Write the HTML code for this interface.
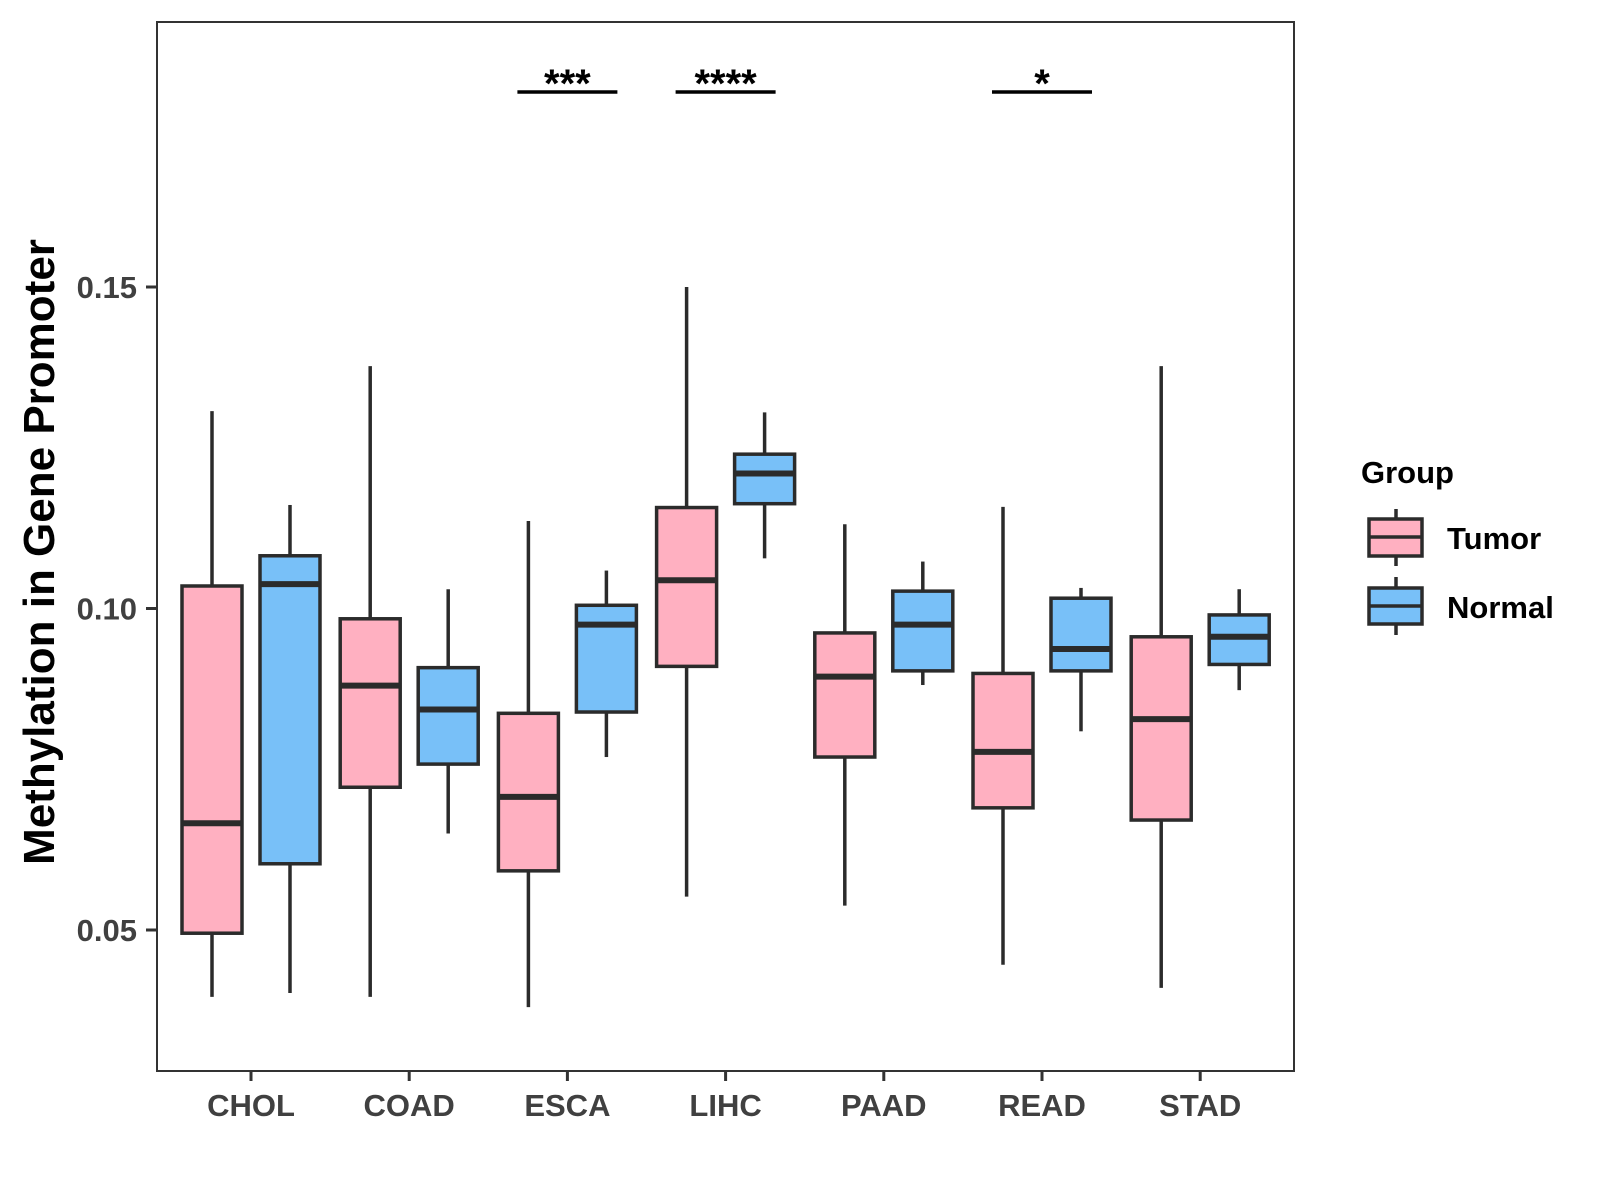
<!DOCTYPE html>
<html><head><meta charset="utf-8"><style>
html,body{margin:0;padding:0;background:#fff}
svg{display:block;font-family:"Liberation Sans",Arial,sans-serif}
</style></head><body>
<svg id="chart" width="1600" height="1200" viewBox="0 0 1600 1200">
<rect x="157" y="22" width="1137" height="1049" fill="#fff" stroke="#333" stroke-width="2"/>
<g id="marks"></g>
<g id="axes"></g>
<text transform="translate(54,552) rotate(-90)" text-anchor="middle" font-size="44" font-weight="bold" fill="#000">Methylation in Gene Promoter</text>
<g>
<text x="1361" y="483" font-size="31" font-weight="bold" fill="#000">Group</text>
<g>
<line x1="1396" y1="509" x2="1396" y2="566" stroke="#2b2b2b" stroke-width="3.5"/>
<rect x="1369" y="519" width="53" height="37" fill="#FFB0C1" stroke="#2b2b2b" stroke-width="3.5"/>
<line x1="1369" y1="537" x2="1422" y2="537" stroke="#2b2b2b" stroke-width="3.5"/>
<text x="1447" y="549" font-size="31" font-weight="bold" fill="#000">Tumor</text>
</g>
<g>
<line x1="1396" y1="577" x2="1396" y2="635" stroke="#2b2b2b" stroke-width="3.5"/>
<rect x="1369" y="588" width="53" height="36" fill="#78C0F8" stroke="#2b2b2b" stroke-width="3.5"/>
<line x1="1369" y1="606" x2="1422" y2="606" stroke="#2b2b2b" stroke-width="3.5"/>
<text x="1447" y="618" font-size="31" font-weight="bold" fill="#000">Normal</text>
</g>
</g>
</svg>
<script>
const categories = ["CHOL","COAD","ESCA","LIHC","PAAD","READ","STAD"];
// [whiskerLow, Q1, median, Q3, whiskerHigh]
const tumorStats = [
 [0.0396,0.0495,0.0666,0.1035,0.1307],
 [0.0396,0.0722,0.0880,0.0984,0.1377],
 [0.0380,0.0592,0.0707,0.0837,0.1136],
 [0.0552,0.0910,0.1044,0.1157,0.1500],
 [0.0538,0.0769,0.0894,0.0962,0.1131],
 [0.0446,0.0690,0.0777,0.0899,0.1158],
 [0.0410,0.0671,0.0828,0.0956,0.1377]
];
const normalStats = [
 [0.0402,0.0603,0.1038,0.1082,0.1161],
 [0.0650,0.0758,0.0843,0.0908,0.1030],
 [0.0769,0.0839,0.0975,0.1005,0.1059],
 [0.1078,0.1163,0.1210,0.1240,0.1305],
 [0.0881,0.0903,0.0975,0.1027,0.1073],
 [0.0809,0.0903,0.0937,0.1016,0.1032],
 [0.0873,0.0913,0.0956,0.0990,0.1030]
];
const yTicks = [0.05,0.10,0.15];
const yTickLabels = ["0.05","0.10","0.15"];
const sigCategories = ["ESCA","LIHC","READ"];
const sigLabels = ["***","****","*"];

const NS="http://www.w3.org/2000/svg";
function yScale(v){return 930-(v-0.05)*6430;}
function xScale(i){return 251+i*158.2;}
function mk(tag,attrs,parent){const e=document.createElementNS(NS,tag);for(const k in attrs)e.setAttribute(k,attrs[k]);parent.appendChild(e);return e;}
const marks=document.getElementById('marks');
const axes=document.getElementById('axes');
const stroke="#2b2b2b";
function drawBox(s,cx,fill,name){
  const g=mk('g',{},marks);
  
  
  const hw=30;
  mk('line',{x1:cx,x2:cx,y1:yScale(s[4]),y2:yScale(s[3]),stroke:stroke,'stroke-width':3.5},g);
  mk('line',{x1:cx,x2:cx,y1:yScale(s[1]),y2:yScale(s[0]),stroke:stroke,'stroke-width':3.5},g);
  mk('rect',{x:cx-hw,y:yScale(s[3]),width:hw*2,height:yScale(s[1])-yScale(s[3]),fill:fill,stroke:stroke,'stroke-width':3.5},g);
  mk('line',{x1:cx-hw,x2:cx+hw,y1:yScale(s[2]),y2:yScale(s[2]),stroke:stroke,'stroke-width':6},g);
}
categories.forEach((c,i)=>{
  drawBox(tumorStats[i],xScale(i)-39,"#FFB0C1","box-tumor-"+c.toLowerCase());
  drawBox(normalStats[i],xScale(i)+39,"#78C0F8","box-normal-"+c.toLowerCase());
  const t=mk('line',{x1:xScale(i),x2:xScale(i),y1:1071,y2:1081,stroke:"#333",'stroke-width':3},axes);
  
  
  const l=mk('text',{x:xScale(i),y:1116,'text-anchor':'middle','font-size':31,'font-weight':'bold',fill:'#404040'},axes);
  l.textContent=c;
  
  
});
yTicks.forEach((v,i)=>{
  const t=mk('line',{x1:146,x2:157,y1:yScale(v),y2:yScale(v),stroke:"#333",'stroke-width':3},axes);
  
  
  const l=mk('text',{x:137,y:yScale(v)+11,'text-anchor':'end','font-size':31,'font-weight':'bold',fill:'#404040'},axes);
  l.textContent=yTickLabels[i];
  
  
});
sigCategories.forEach((c,k)=>{
  const i=categories.indexOf(c);
  const cx=xScale(i);
  const ln=mk('line',{x1:cx-50,x2:cx+50,y1:92,y2:92,stroke:'#000','stroke-width':3.5},marks);
  
  
  const tx=mk('text',{x:cx,y:97,'text-anchor':'middle','font-size':40,'font-weight':'bold',fill:'#000'},marks);
  tx.textContent=sigLabels[k];
  
  
});
</script>
</body></html>
